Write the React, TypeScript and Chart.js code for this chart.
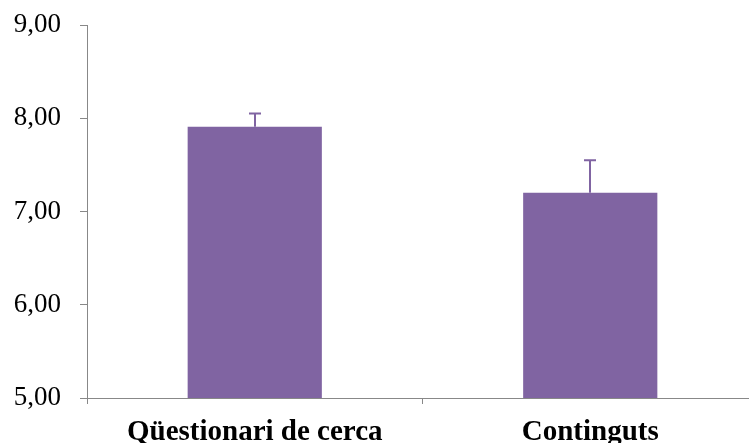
import React, { useEffect, useRef } from "react";
import { Chart, registerables } from "chart.js";

Chart.register(...registerables);

const categories = ["Qüestionari de cerca", "Continguts"];
const means = [7.91, 7.2];
const errorTops = [8.05, 7.55];
const yTicks = [5, 6, 7, 8, 9];

const errorBarPlugin = {
  id: "errorBars",
  afterDatasetsDraw(chart: any) {
    const { ctx, scales } = chart;
    const meta = chart.getDatasetMeta(0);
    ctx.save();
    ctx.strokeStyle = "#8064A2";
    ctx.lineWidth = 2;
    meta.data.forEach((bar: any, i: number) => {
      const x = Math.round(bar.x);
      const yTop = scales.y.getPixelForValue(errorTops[i]);
      const yBase = scales.y.getPixelForValue(means[i]);
      ctx.beginPath();
      ctx.moveTo(x, yBase);
      ctx.lineTo(x, yTop);
      ctx.moveTo(x - 6, yTop);
      ctx.lineTo(x + 6, yTop);
      ctx.stroke();
    });
    ctx.restore();
  },
};

const CANVAS_W = 758;

export default function App() {
  const ref = useRef<HTMLCanvasElement>(null);
  useEffect(() => {
    document.body.style.margin = "0";
    const chart = new Chart(ref.current!, {
      type: "bar",
      data: {
        labels: categories,
        datasets: [
          {
            data: means,
            backgroundColor: "#8064A2",
            borderWidth: 0,
            barPercentage: 0.4,
            categoryPercentage: 1,
          },
        ],
      },
      options: {
        animation: false,
        responsive: false,
        devicePixelRatio: 1,
        layout: { padding: { top: 25, right: 0, left: 0, bottom: 0 } },
        plugins: { legend: { display: false }, tooltip: { enabled: false } },
        scales: {
          x: {
            grid: {
              drawOnChartArea: false,
              drawTicks: true,
              tickLength: 6,
              color: "#888888",
              offset: true,
            },
            border: { color: "#888888", width: 1 },
            ticks: {
              color: "#000000",
              font: { family: "Liberation Serif", size: 29, weight: "bold" },
              padding: 11,
              maxRotation: 0,
            },
            afterFit(scale: any) {
              scale.height = 45;
              scale.paddingLeft = 0;
              scale.paddingRight = 0;
            },
          },
          y: {
            min: 5,
            max: 9,
            afterBuildTicks(scale: any) {
              scale.ticks = yTicks.map((v) => ({ value: v }));
            },
            grid: {
              drawOnChartArea: false,
              drawTicks: true,
              tickLength: 7,
              color: "#888888",
            },
            border: { color: "#888888", width: 1 },
            ticks: {
              color: "#000000",
              font: { family: "Liberation Serif", size: 27 },
              padding: 19,
              callback: (v: any) => Number(v).toFixed(2).replace(".", ","),
            },
            afterFit(scale: any) {
              scale.width = 87;
              scale.paddingTop = 0;
              scale.paddingBottom = 0;
            },
          },
        },
      },
      plugins: [errorBarPlugin],
    });
    return () => chart.destroy();
  }, []);
  return (
    <div style={{ width: 749, height: 443, overflow: "hidden" }}>
      <canvas
        ref={ref}
        width={CANVAS_W}
        height={443}
        style={{ width: CANVAS_W, height: 443, display: "block" }}
      />
    </div>
  );
}
